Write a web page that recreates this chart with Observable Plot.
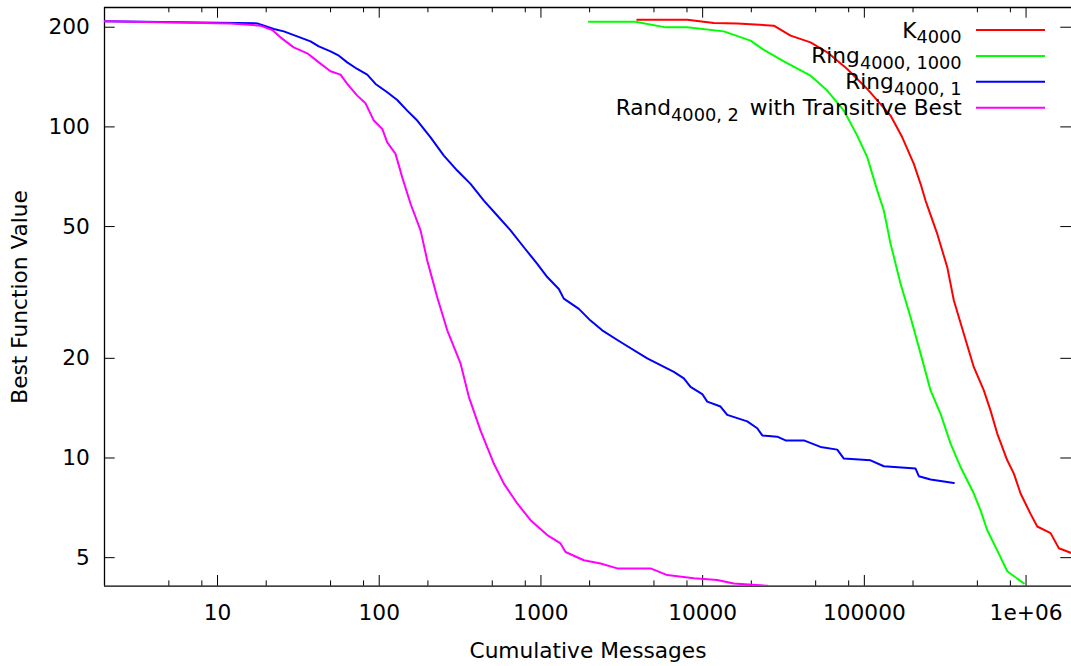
<!DOCTYPE html>
<html><head><meta charset="utf-8">
<script src="https://cdn.jsdelivr.net/npm/d3@7"></script>
<script src="https://cdn.jsdelivr.net/npm/@observablehq/plot@0.6"></script>
<style>
html,body{margin:0;padding:0;background:#fff;overflow:hidden}
#chart svg{display:block}
</style></head><body><div id="chart"></div>
<script>
// ---- data ----
const kX = [3940, 8031, 11730, 16370, 27560, 34970, 46490, 58970, 78390, 104200, 145200, 171600, 202300, 222600, 239000, 282400, 325600, 357700, 412500, 475500, 548200, 603300, 663500, 765100, 840600, 924700, 1066000, 1173000, 1418000, 1596000, 1911000, 2000000];
const kY = [210.8, 210.8, 206.0, 205.4, 202.2, 188.6, 180.0, 168.0, 149.6, 130.2, 108.2, 93.0, 77.3, 67.3, 59.9, 47.5, 37.7, 29.9, 23.7, 18.8, 16.0, 13.9, 11.85, 9.84, 8.97, 7.81, 6.78, 6.21, 5.93, 5.34, 5.16, 5.15];

const ring1000X = [1978, 3846, 5896, 8031, 13520, 19780, 23910, 31780, 46490, 58970, 74670, 90390, 104200, 120200, 132000, 145200, 167500, 193100, 222600, 256700, 296000, 341300, 393600, 475500, 523100, 575500, 663500, 765100, 969200];
const ring1000Y = [207.9, 207.9, 199.8, 199.8, 194.3, 182.2, 170.8, 157.7, 142.8, 128.7, 112.0, 94.1, 81.0, 64.2, 55.9, 44.4, 33.6, 26.6, 20.7, 16.0, 13.6, 11.05, 9.39, 7.81, 6.95, 6.05, 5.26, 4.55, 4.18];

const ring1X = [2, 17.68, 18.0, 22.3, 25.7, 31.1, 37.6, 42.3, 50.0, 56.3, 63.4, 73.1, 84.3, 94.9, 112.1, 129.2, 149.0, 171.8, 207.7, 250.9, 303.6, 366.9, 443.6, 536.7, 648.6, 784.0, 948.6, 1094, 1290, 1385, 1716, 2026, 2393, 3107, 4544, 6636, 7650, 8418, 9943, 10676, 12902, 14195, 18869, 21760, 23373, 28932, 32563, 42240, 53590, 67990, 74670, 109200, 132000, 207300, 217300, 256700, 357700];
const ring1Y = [208.3, 205.4, 204.6, 197.6, 194.3, 187.7, 181.3, 175.1, 169.1, 164.1, 156.6, 149.6, 143.8, 134.8, 127.2, 120.6, 112.0, 104.5, 93.0, 81.9, 73.8, 67.3, 59.9, 54.0, 48.7, 43.3, 38.6, 35.2, 32.4, 30.3, 28.2, 26.0, 24.3, 22.4, 20.0, 18.2, 17.4, 16.4, 15.6, 14.8, 14.3, 13.5, 12.9, 12.3, 11.7, 11.6, 11.3, 11.3, 10.8, 10.6, 9.96, 9.84, 9.44, 9.29, 8.81, 8.61, 8.41];

const randX = [2, 12.0, 18.4, 21.8, 24.5, 29.6, 35.9, 42.3, 50.0, 57.6, 63.4, 73.1, 82.3, 92.6, 104.4, 112.1, 126.1, 138.8, 156.2, 180.1, 198.1, 228.4, 263.4, 318.3, 358.2, 423.2, 511.3, 589.7, 713.7, 862.5, 1094, 1322, 1419, 1842, 2337, 2964, 4763, 6041, 8822, 12310, 15590, 25090];
const randY = [208.3, 205.4, 202.2, 196.2, 186.4, 173.9, 166.8, 156.6, 147.2, 143.8, 134.8, 124.3, 117.8, 104.5, 98.6, 89.8, 82.9, 70.4, 58.6, 48.7, 39.5, 30.6, 24.3, 19.3, 15.3, 12.1, 9.62, 8.37, 7.29, 6.49, 5.85, 5.52, 5.20, 4.91, 4.80, 4.64, 4.64, 4.43, 4.33, 4.28, 4.18, 4.11];

const seriesColors = ["#ff0000", "#00ff00", "#0000ff", "#ff00ff"];
const legendMain = ["K", "Ring", "Ring", "Rand"];
const legendSub = ["4000", "4000, 1000", "4000, 1", "4000, 2"];
const legendRest = ["", "", "", " with Transitive Best"];

const xMajor = [10, 100, 1000, 10000, 100000, 1000000];
const xLabels = ["10", "100", "1000", "10000", "100000", "1e+06"];
const xMinor = [5, 8, 20, 50, 80, 200, 500, 800, 2000, 5000, 8000, 20000, 50000, 80000, 200000, 500000, 800000];
const yMajor = [5, 10, 20, 50, 100, 200];
const yLabels = ["5", "10", "20", "50", "100", "200"];
const xDomain = [2, 1.91e6];
const yDomain = [4.1, 229.4];
const xTitle = "Cumulative Messages";
const yTitle = "Best Function Value";

// ---- build ----
const W = 1071, H = 666;
const mL = 104, mR = 0, mT = 7, mB = 80.3;
const plotW = W - mL - mR, plotH = H - mT - mB;
const majorLen = 10.7, minorLen = 5.3;
const FONT = "DejaVu Sans";
const FS = 21.7;
const SUB = 17.8;

const toRows = (xs, ys) => xs.map((x, i) => ({x, y: ys[i]}));
const series = [toRows(kX, kY), toRows(ring1000X, ring1000Y), toRows(ring1X, ring1Y), toRows(randX, randY)];

const marks = [];
// inward ticks (gnuplot style), bottom & top, left & right
marks.push(Plot.tickX(xMajor, {x: d => d, insetTop: plotH - majorLen, stroke: "#000", strokeWidth: 1}));
marks.push(Plot.tickX(xMajor, {x: d => d, insetBottom: plotH - majorLen, stroke: "#000", strokeWidth: 1}));
marks.push(Plot.tickX(xMinor, {x: d => d, insetTop: plotH - minorLen, stroke: "#000", strokeWidth: 1}));
marks.push(Plot.tickX(xMinor, {x: d => d, insetBottom: plotH - minorLen, stroke: "#000", strokeWidth: 1}));
marks.push(Plot.tickY(yMajor, {y: d => d, insetRight: plotW - majorLen, stroke: "#000", strokeWidth: 1}));
marks.push(Plot.tickY(yMajor, {y: d => d, insetLeft: plotW - majorLen, stroke: "#000", strokeWidth: 1}));
// border: left, top, bottom
marks.push(Plot.ruleX([xDomain[0]], {x: d => d, stroke: "#000", strokeWidth: 1.3}));
marks.push(Plot.ruleY([yDomain[0], yDomain[1]], {y: d => d, stroke: "#000", strokeWidth: 1.3}));
// series lines
series.forEach((rows, i) => {
  marks.push(Plot.line(rows, {x: "x", y: "y", stroke: seriesColors[i], strokeWidth: 2, clip: true, strokeLinejoin: "round"}));
});
// tick labels
marks.push(Plot.text(xMajor, {x: d => d, frameAnchor: "bottom", dy: 27, text: xLabels, fontSize: FS, textAnchor: "middle", lineAnchor: "middle", fill: "#000"}));
marks.push(Plot.text(yMajor, {y: d => d, frameAnchor: "left", dx: -14.7, textAnchor: "end", text: yLabels, fontSize: FS, lineAnchor: "middle", fill: "#000"}));
// axis titles
marks.push(Plot.text([xTitle], {frameAnchor: "bottom", dy: 65, text: d => d, fontSize: FS, textAnchor: "middle", lineAnchor: "middle", fill: "#000"}));
marks.push(Plot.text([yTitle], {frameAnchor: "left", dx: -84, rotate: -90, text: d => d, fontSize: FS, textAnchor: "middle", lineAnchor: "middle", fill: "#000"}));

const plot = Plot.plot({
  width: W, height: H,
  marginLeft: mL, marginRight: mR, marginTop: mT, marginBottom: mB,
  style: {fontFamily: FONT, background: "#fff"},
  x: {type: "log", domain: xDomain, axis: null},
  y: {type: "log", domain: yDomain, axis: null},
  marks
});
document.getElementById("chart").appendChild(plot);

// legend (inside the plot, top-right, gnuplot style with subscripts)
const svg = d3.select(plot);
const leg = svg.append("g").attr("font-family", FONT).attr("font-size", FS).style("white-space", "pre");
legendMain.forEach((m, i) => {
  const cy = 30 + i * 25.9;
  const t = leg.append("text").attr("x", 961.7).attr("y", cy + 7.5).attr("text-anchor", "end").attr("fill", "#000");
  t.append("tspan").text(m);
  t.append("tspan").attr("font-size", SUB).attr("dy", 5.4).text(legendSub[i]);
  if (legendRest[i]) t.append("tspan").attr("font-size", FS).attr("dy", -5.4).attr("dx", 4).text(legendRest[i]);
  leg.append("line").attr("x1", 976).attr("x2", 1045).attr("y1", cy).attr("y2", cy)
    .attr("stroke", seriesColors[i]).attr("stroke-width", 2);
});
</script>
</body></html>
